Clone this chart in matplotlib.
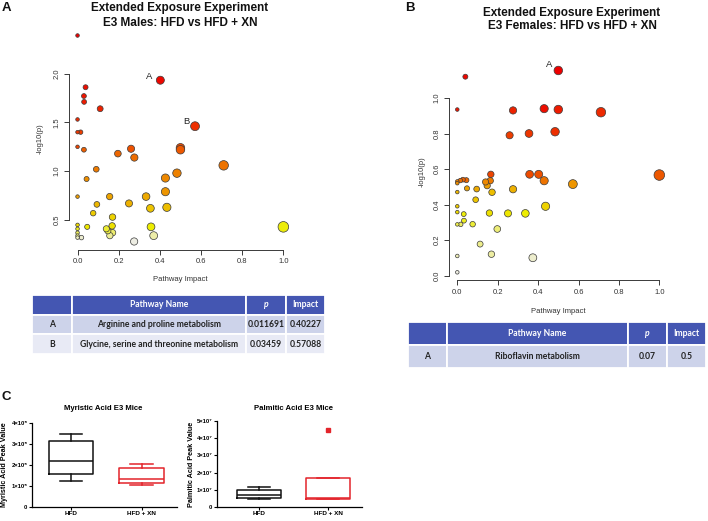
"""
Pathway impact plots (males / females), summary tables and fatty acid box plots.
Output: out.png (708 x 521 px).
"""
import colorsys

import numpy as np
import matplotlib as mpl
import matplotlib.pyplot as plt

mpl.rcParams.update({
    "font.family": "sans-serif",
    "font.sans-serif": ["Liberation Sans", "DejaVu Sans"],
})

W, H = 708, 521

# ----- panel A: E3 males, pathway impact vs -log10(p) -----
males_impact = [0.0, 0.40227, 0.039, 0.031, 0.032, 0.11, 0.0, 0.0, 0.015, 0.57088,
                0.50, 0.50, 0.0, 0.031, 0.196, 0.26, 0.276, 0.71, 0.091, 0.483,
                0.427, 0.044, 0.427, 0.0, 0.156, 0.333, 0.094, 0.25, 0.354, 0.434,
                0.076, 0.17, 0.0, 0.047, 0.0, 0.0, 0.0, 0.0, 0.019, 0.14,
                0.168, 0.147, 0.17, 0.157, 0.275, 0.357, 0.37, 1.0]
males_logp = [2.39, 1.932, 1.86, 1.77, 1.71, 1.64, 1.53, 1.40, 1.40, 1.461,
              1.24, 1.22, 1.25, 1.22, 1.18, 1.23, 1.14, 1.06, 1.02, 0.98,
              0.93, 0.92, 0.79, 0.74, 0.74, 0.74, 0.66, 0.67, 0.62, 0.63,
              0.57, 0.53, 0.45, 0.43, 0.41, 0.37, 0.34, 0.32, 0.32, 0.41,
              0.44, 0.39, 0.37, 0.34, 0.28, 0.43, 0.34, 0.43]

# ----- panel B: E3 females -----
females_impact = [0.5, 0.04, 0.0, 0.276, 0.43, 0.5, 0.711, 0.259, 0.355, 0.484,
                  0.166, 0.358, 0.403, 0.43, 0.572, 1.0, 0.0, 0.0, 0.015, 0.028,
                  0.045, 0.14, 0.163, 0.148, 0.048, 0.096, 0.172, 0.276, 0.0, 0.091,
                  0.0, 0.0, 0.032, 0.159, 0.251, 0.337, 0.437, 0.033, 0.0, 0.017,
                  0.076, 0.198, 0.113, 0.169, 0.374, 0.0, 0.0]
females_logp = [1.155, 1.12, 0.935, 0.93, 0.94, 0.935, 0.92, 0.79, 0.80, 0.81,
                0.57, 0.57, 0.57, 0.534, 0.515, 0.566, 0.53, 0.52, 0.535, 0.54,
                0.537, 0.527, 0.534, 0.506, 0.491, 0.487, 0.469, 0.486, 0.47, 0.427,
                0.39, 0.357, 0.346, 0.352, 0.35, 0.35, 0.39, 0.309, 0.288, 0.288,
                0.289, 0.262, 0.177, 0.12, 0.10, 0.11, 0.018]

# ----- summary tables -----
table_header = ["", "Pathway Name", "p", "Impact"]
males_rows = [["A", "Arginine and proline metabolism", "0.011691", "0.40227"],
              ["B", "Glycine, serine and threonine metabolism", "0.03459", "0.57088"]]
females_rows = [["A", "Riboflavin metabolism", "0.07", "0.5"]]

# ----- panel C: box plot summaries (whislo, q1, med, q3, whishi) -----
groups = ["HFD", "HFD + XN"]
myristic_whislo = [1.24e5, 1.06e5]
myristic_q1 = [1.57e5, 1.14e5]
myristic_med = [2.17e5, 1.32e5]
myristic_q3 = [3.16e5, 1.88e5]
myristic_whishi = [3.46e5, 2.05e5]
myristic_fliers = [[], []]

palmitic_whislo = [0.48e7, 0.44e7]
palmitic_q1 = [0.51e7, 0.44e7]
palmitic_med = [0.72e7, 0.55e7]
palmitic_q3 = [0.99e7, 1.67e7]
palmitic_whishi = [1.14e7, 1.67e7]
palmitic_fliers = [[], [4.47e7]]

myristic_ticks = [0, 1e5, 2e5, 3e5, 4e5]
myristic_labels = ["0", "1×10⁵", "2×10⁵", "3×10⁵", "4×10⁵"]
palmitic_ticks = [0, 1e7, 2e7, 3e7, 4e7, 5e7]
palmitic_labels = ["0", "1×10⁷", "2×10⁷", "3×10⁷", "4×10⁷", "5×10⁷"]

BOX_COLORS = ["#111111", "#e3242b"]
AX_GRAY = "#3a3a3a"


def px_axes(fig, left, top, right, bottom):
    """Axes placed by pixel box (origin top-left)."""
    return fig.add_axes([left / W, 1 - bottom / H, (right - left) / W, (bottom - top) / H])


def heat_colors(n):
    """R's heat.colors(n)."""
    j = n // 4
    i = n - j
    cols = [colorsys.hsv_to_rgb(h, 1, 1) for h in np.linspace(0, 1 / 6, i)]
    if j > 0:
        cols += [colorsys.hsv_to_rgb(1 / 6, s, 1)
                 for s in np.linspace(1 - 1 / (2 * j), 1 / (2 * j), j)]
    return np.array(cols)


def pathway_plot(ax, impact, logp, yticks):
    impact = np.asarray(impact)
    logp = np.asarray(logp)
    rank = np.argsort(np.argsort(-logp, kind="stable"))
    cols = heat_colors(len(logp))[rank] * 0.93
    radius = 1.8 + 3.5 * np.sqrt(impact)          # px
    s = (2 * radius * 72 / 100) ** 2
    order = np.argsort(-radius, kind="stable")       # big circles underneath
    ax.scatter(impact[order], logp[order], s=s[order], c=cols[order],
               edgecolors="#3b3b3b", linewidths=0.5, zorder=3)

    for sp in ["top", "right"]:
        ax.spines[sp].set_visible(False)
    for sp in ["left", "bottom"]:
        ax.spines[sp].set_color(AX_GRAY)
        ax.spines[sp].set_linewidth(0.7)
    ax.spines["left"].set_bounds(yticks[0], yticks[-1])
    ax.spines["bottom"].set_bounds(0, 1)
    ax.set_xticks([0, 0.2, 0.4, 0.6, 0.8, 1.0])
    ax.set_xticklabels([f"{v:.1f}" for v in ax.get_xticks()])
    ax.set_yticks(yticks)
    ax.set_yticklabels([f"{v:.1f}" for v in yticks], rotation=90, va="center")
    ax.tick_params(labelsize=5.5, length=3.5, width=0.7, colors=AX_GRAY,
                   labelcolor="#333333", pad=2.5)
    ax.set_xlim(-0.04, 1.04)
    ax.set_xlabel("Pathway Impact", fontsize=5.5, color="#333333")
    ax.set_ylabel("-log10(p)", fontsize=5.5, color="#333333")


def draw_table(ax, rows, col_px, fontsize=6.2):
    ax.axis("off")
    widths = np.array(col_px, float) / sum(col_px)
    tbl = ax.table(cellText=rows, colLabels=table_header, colWidths=widths,
                   cellLoc="center", bbox=[0, 0, 1, 1])
    tbl.auto_set_font_size(False)
    row_fill = ["#cdd3ea", "#e8eaf5"]
    for (r, c), cell in tbl.get_celld().items():
        cell.set_edgecolor("white")
        cell.set_linewidth(1.3)
        txt = cell.get_text()
        txt.set_fontsize(fontsize)
        txt.set_fontweight("bold")
        txt.set_fontfamily(["Lato", "DejaVu Sans"])
        if r == 0:
            cell.set_facecolor("#4456b2")
            txt.set_color("white")
            if table_header[c] == "p":
                txt.set_fontstyle("italic")
        else:
            cell.set_facecolor(row_fill[(r - 1) % 2])
            txt.set_color("#222222")


def box_panel(ax, whislo, q1, med, q3, whishi, fliers, ticks, labels, top):
    stats = [dict(whislo=a, q1=b, med=c, q3=d, whishi=e, fliers=f, label=g)
             for a, b, c, d, e, f, g in zip(whislo, q1, med, q3, whishi, fliers, groups)]
    art = ax.bxp(stats, positions=[1, 2], widths=0.63, showfliers=True)
    for i, col in enumerate(BOX_COLORS):
        for key in ["boxes", "medians"]:
            art[key][i].set_color(col)
            art[key][i].set_linewidth(1.1)
        for key in ["whiskers", "caps"]:
            for a in art[key][2 * i:2 * i + 2]:
                a.set_color(col)
                a.set_linewidth(1.1)
        art["fliers"][i].set(marker="s", markersize=3, markerfacecolor=col,
                             markeredgecolor=col)
    for sp in ["top", "right"]:
        ax.spines[sp].set_visible(False)
    for sp in ["left", "bottom"]:
        ax.spines[sp].set_linewidth(0.9)
    ax.set_xlim(0.45, 2.5)
    ax.set_ylim(0, top)
    ax.set_yticks(ticks)
    ax.set_yticklabels(labels)
    ax.tick_params(axis="y", labelsize=4.2, length=2.2, width=0.8, pad=1)
    ax.tick_params(axis="x", labelsize=4.6, length=2.0, width=0.8, pad=1.2)
    for t in ax.get_xticklabels() + ax.get_yticklabels():
        t.set_fontweight("bold")


fig = plt.figure(figsize=(W / 100, H / 100), dpi=100)

# ----- panel A -----
axA = px_axes(fig, 69.3, 27.3, 291.6, 249.7)
pathway_plot(axA, males_impact, males_logp, [0.5, 1.0, 1.5, 2.0])
axA.set_ylim(0.196, 2.474)
axA.yaxis.set_label_coords(-0.116, 0.5)
axA.xaxis.set_label_coords(0.5, -0.12)
for name, dx, dy in [("A", -7.7, 2.4), ("B", -6.5, 3.6)]:
    row = [r for r in males_rows if r[0] == name][0]
    axA.annotate(name, (float(row[3]), -np.log10(float(row[2]))), xytext=(dx, dy),
                 textcoords="offset points", ha="center", va="center",
                 fontsize=6.8, color="#222222")

# ----- panel B -----
axB = px_axes(fig, 449.2, 62.5, 667.4, 280.3)
pathway_plot(axB, females_impact, females_logp, [0.0, 0.2, 0.4, 0.6, 0.8, 1.0])
axB.set_ylim(-0.027, 1.20)
axB.yaxis.set_label_coords(-0.107, 0.5)
axB.xaxis.set_label_coords(0.5, -0.127)
rowB = females_rows[0]
axB.annotate("A", (float(rowB[3]), -np.log10(float(rowB[2]))), xytext=(-6.3, 4.1),
             textcoords="offset points", ha="center", va="center",
             fontsize=6.8, color="#222222")

# titles and panel letters
title_kw = dict(ha="center", va="center", fontsize=8.5, fontweight="bold", color="#111111")
fig.text(180 / W, 1 - 7.5 / H, "Extended Exposure Experiment", **title_kw)
fig.text(180 / W, 1 - 22.5 / H, "E3 Males: HFD vs HFD + XN", **title_kw)
fig.text(572 / W, 1 - 12.7 / H, "Extended Exposure Experiment", **title_kw)
fig.text(572 / W, 1 - 26 / H, "E3 Females: HFD vs HFD + XN", **title_kw)
letter_kw = dict(ha="left", va="center", fontsize=9.5, fontweight="bold", color="#111111")
fig.text(2 / W, 1 - 8 / H, "A", **letter_kw)
fig.text(405 / W, 1 - 8 / H, "B", **letter_kw)
fig.text(2 / W, 1 - 397 / H, "C", **letter_kw)

# ----- tables -----
draw_table(px_axes(fig, 32, 295, 325, 354), males_rows, [40, 174, 40, 39])
draw_table(px_axes(fig, 408, 322, 706, 368), females_rows, [39, 181, 39, 39])

# ----- panel C -----
axC1 = px_axes(fig, 32, 423, 177, 507)
box_panel(axC1, myristic_whislo, myristic_q1, myristic_med, myristic_q3,
          myristic_whishi, myristic_fliers, myristic_ticks, myristic_labels, 4e5)
axC1.set_ylabel("Myristic Acid Peak Value", fontsize=5.2, fontweight="bold")
axC1.yaxis.set_label_coords(-0.165, 0.5)
axC1.text(0.49, 1.17, "Myristic Acid E3 Mice", transform=axC1.transAxes,
          ha="center", va="center", fontsize=5.6, fontweight="bold")

axC2 = px_axes(fig, 217, 421, 362, 507)
box_panel(axC2, palmitic_whislo, palmitic_q1, palmitic_med, palmitic_q3,
          palmitic_whishi, palmitic_fliers, palmitic_ticks, palmitic_labels, 5e7)
axC2.set_xlim(0.39, 2.49)
axC2.set_ylabel("Palmitic Acid Peak Value", fontsize=5.2, fontweight="bold")
axC2.yaxis.set_label_coords(-0.15, 0.5)
axC2.text(0.53, 1.14, "Palmitic Acid E3 Mice", transform=axC2.transAxes,
          ha="center", va="center", fontsize=5.6, fontweight="bold")

fig.savefig("out.png", dpi=100)
